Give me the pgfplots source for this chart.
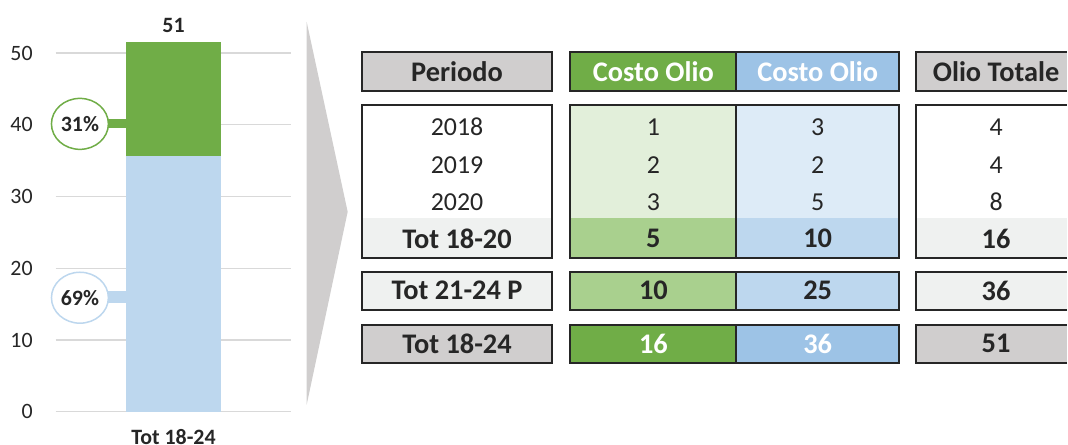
\documentclass[border=0pt]{standalone}
\usepackage{pgfplots}
\pgfplotsset{compat=1.18}
\usepackage{fontspec}
\setmainfont{Carlito}

\definecolor{bargreen}{HTML}{70AD47}
\definecolor{barblue}{HTML}{BDD7EE}
\definecolor{hdrblue}{HTML}{9DC3E6}
\definecolor{ltgreen}{HTML}{E2EFDA}
\definecolor{midgreen}{HTML}{A9D08E}
\definecolor{ltblue}{HTML}{DDEBF7}
\definecolor{hdrgray}{HTML}{D0CECE}
\definecolor{ltgray}{HTML}{EFF1F0}
\definecolor{gridgray}{HTML}{D9D9D9}
\definecolor{txt}{HTML}{262626}

\newcommand{\fsmall}{\fontsize{22}{24}\selectfont}
\newcommand{\fbig}{\fontsize{26}{28}\selectfont}
\newcommand{\fbold}{\fontsize{28.5}{30}\selectfont\bfseries}

\begin{document}
\begin{tikzpicture}[x=1bp,y=1bp]
\path (0,0) rectangle (1068,445);

\begin{axis}[
    at={(58.5,45.8)}, anchor=south west,
    scale only axis,
    width=236bp, height=373.4bp,
    xmin=-1.24, xmax=1.24,
    ymin=0, ymax=52,
    ybar stacked,
    bar width=95bp,
    clip=false,
    axis line style={draw=none},
    major tick length=0,
    ytick={0,10,20,30,40,50},
    xtick={0},
    xticklabels={Tot 18-24},
    ymajorgrids=true,
    grid style={color=gridgray, line width=1.3bp},
    tick label style={font=\fsmall, text=txt},
    yticklabel style={xshift=-19.5bp},
    xticklabel style={font=\fsmall\bfseries, yshift=-14bp, overlay},
    /pgf/number format/assume math mode=true,
]
\addplot[fill=barblue, draw=none] coordinates {(0,35.6)};
\addplot[fill=bargreen, draw=none] coordinates {(0,15.9)};

\node[font=\fsmall\bfseries, text=txt] at (axis cs:0,17.8) {36};
\node[font=\fsmall\bfseries, text=white] at (axis cs:0,43.5) {16};
\node[font=\fsmall\bfseries, text=txt] at (axis cs:0,53.8) {51};
\end{axis}

% callouts
\fill[bargreen] (107,317) rectangle (127,326);
\draw[bargreen, line width=1.5bp, fill=white] (80,321) ellipse [x radius=28.5, y radius=25.5];
\node[font=\fsmall\bfseries, text=txt] at (80,321) {31\%};
\fill[barblue] (107,142) rectangle (127,154);
\draw[barblue, line width=1.5bp, fill=white] (80,147) ellipse [x radius=28.5, y radius=25.5];
\node[font=\fsmall\bfseries, text=txt] at (80,147) {69\%};

% chevron
\fill[hdrgray] (307,423) -- (348,233) -- (307,40) -- cycle;

% table
\tikzset{bx/.style={draw=txt, line width=2bp}}
% Periodo column
\fill[hdrgray] (362,354) rectangle (553,393);
\fill[white] (362,227) rectangle (553,340);
\fill[ltgray] (362,187) rectangle (553,227);
\fill[ltgray] (362,135) rectangle (553,173);
\fill[hdrgray] (362,82) rectangle (553,120);
\draw[bx] (362,354) rectangle (553,393);
\draw[bx] (362,187) rectangle (553,340);
\draw[bx] (362,135) rectangle (553,173);
\draw[bx] (362,82) rectangle (553,120);
% green/blue columns
\fill[bargreen] (571,354) rectangle (737,393);
\fill[hdrblue] (737,354) rectangle (900,393);
\fill[ltgreen] (571,227) rectangle (737,340);
\fill[ltblue] (737,227) rectangle (900,340);
\fill[midgreen] (571,187) rectangle (737,227);
\fill[barblue] (737,187) rectangle (900,227);
\fill[midgreen] (571,135) rectangle (737,173);
\fill[barblue] (737,135) rectangle (900,173);
\fill[bargreen] (571,82) rectangle (737,120);
\fill[hdrblue] (737,82) rectangle (900,120);
\foreach \ya/\yb in {354/393,187/340,135/173,82/120}{
  \draw[bx] (571,\ya) rectangle (900,\yb);
  \draw[bx] (737,\ya) -- (737,\yb);
}
% total column (cut off at the right edge)
\fill[hdrgray] (917,354) rectangle (1068,393);
\fill[white] (917,227) rectangle (1068,340);
\fill[ltgray] (917,187) rectangle (1068,227);
\fill[ltgray] (917,135) rectangle (1068,173);
\fill[hdrgray] (917,82) rectangle (1068,120);
\foreach \ya/\yb in {354/393,187/340,135/173,82/120}{
  \draw[bx] (1068,\ya) -- (917,\ya) -- (917,\yb) -- (1068,\yb);
}

% table text
\tikzset{tt/.style={font=\fbig, text=txt}, tb/.style={font=\fbold, text=txt}}
\node[tb] at (457.5,373.5) {Periodo};
\node[tb, text=white] at (654,373.5) {Costo Olio};
\node[tb, text=white] at (818.5,373.5) {Costo Olio};
\node[tb] at (997,373.5) {Olio Totale};

\foreach \y/\a/\b/\c/\d in {318/2018/1/3/4, 280/2019/2/2/4, 243/2020/3/5/8}{
  \node[tt] at (457.5,\y) {\a};
  \node[tt] at (654,\y) {\b};
  \node[tt] at (818.5,\y) {\c};
  \node[tt] at (997,\y) {\d};
}
\node[tb] at (457.5,206) {Tot 18-20};
\node[tb] at (654,206) {5};
\node[tb] at (818.5,206) {10};
\node[tb] at (997,206) {16};

\node[tb] at (457.5,154) {Tot 21-24 P};
\node[tb] at (654,154) {10};
\node[tb] at (818.5,154) {25};
\node[tb] at (997,154) {36};

\node[tb] at (457.5,101) {Tot 18-24};
\node[tb, text=white] at (654,101) {16};
\node[tb, text=white] at (818.5,101) {36};
\node[tb] at (997,101) {51};
\end{tikzpicture}
\end{document}
